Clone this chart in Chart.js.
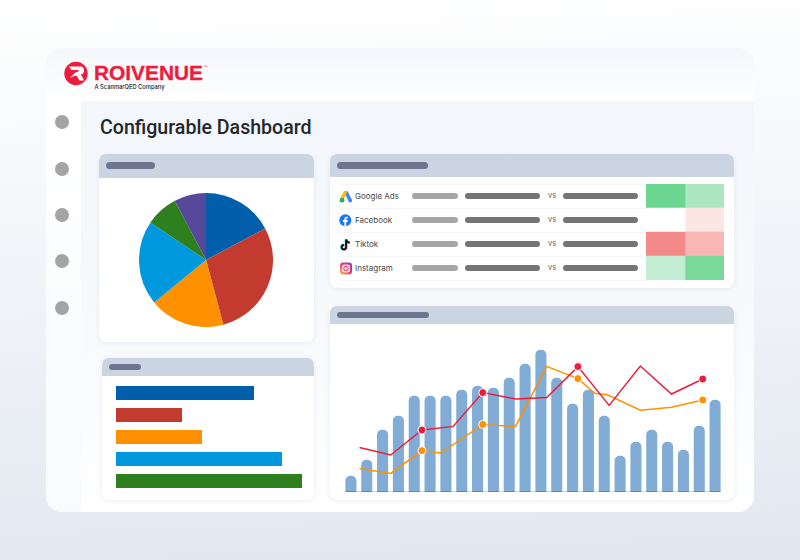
<!DOCTYPE html>
<html>
<head>
<meta charset="utf-8">
<title>Configurable Dashboard</title>
<script src="https://cdn.jsdelivr.net/npm/chart.js@4"></script>
<style>
    html, body { margin: 0; padding: 0; }
    body { width: 800px; height: 560px; position: relative; overflow: hidden; font-family: "Inter", sans-serif;
        background: linear-gradient(178deg, #ffffff 0%, #f6f8fb 30%, #e2e7f0 100%); }
    div, canvas, svg, span { position: absolute; }
    .frame { left: 46px; top: 48px; width: 708px; height: 464px; border-radius: 16px; overflow: hidden; background: #fff; }
    .head { left: 0; top: 0; width: 708px; height: 53px; background: linear-gradient(180deg, #f3f6fa 0%, #ffffff 100%); }
    .side { left: 0; top: 53px; width: 35px; height: 411px; background: linear-gradient(180deg, #ffffff 0%, #f8fafc 100%); }
    .main { left: 35px; top: 53px; width: 673px; height: 411px; background: linear-gradient(180deg, #f3f6fb 0%, #f8fafc 60%, #ffffff 100%); }
    .dot { left: 55px; width: 14px; height: 14px; border-radius: 50%; background: #a4a4a4; }
    .title { left: 100px; top: 115px; font: 500 19.6px/26px "Roboto", sans-serif; color: #24262b; white-space: nowrap; }
    .card { background: #fff; border-radius: 7px; box-shadow: 0 1px 4px rgba(110, 125, 165, .14); }
    .bar-top { left: 0; top: 0; background: #cbd5e1; border-radius: 7px 7px 0 0; }
    .pill { border-radius: 4px; }
    .pill.head-pill { background: #70758f; height: 7px; }
    .pill.light { background: #a5a5a5; height: 6px; left: 412px; width: 46px; }
    .pill.dark1 { background: #757575; height: 6px; left: 465px; width: 75px; }
    .pill.dark2 { background: #757575; height: 6px; left: 563px; width: 75px; }
    .sep { left: 340px; width: 306px; height: 1px; background: #f3f5f8; }
    .rowname { left: 355px; font: 400 8px/12px "Inter", sans-serif; color: #484848; white-space: nowrap; }
    .vs { left: 548px; font: 400 7.5px/10px "Inter", sans-serif; color: #666; }
</style>
</head>
<body>
<div class="frame">
    <div class="head"></div>
    <div class="side"></div>
    <div class="main"></div>
</div>

<svg style="left:60px;top:58px" width="160" height="36" viewBox="0 0 160 36">
    <circle cx="16" cy="15.5" r="11.7" fill="#ee1c3c"/>
    <path d="M9 8.5 H20.5 Q24 8.5 24 12.5 Q24 15.5 21 16.5 L24 22.5 L19.5 22.5 L16.5 17.5 L10 19.5 L15.5 14.5 L18.5 13.5 Q19.5 12.5 18 12 H11.5 Z" fill="#fff"/>
    <text x="34" y="21.5" font-family="Liberation Sans" font-weight="700" font-size="20" fill="#ee1c3c" stroke="#ee1c3c" stroke-width=".3" textLength="109" lengthAdjust="spacingAndGlyphs">ROIVENUE</text>
    <text x="143.5" y="10" font-family="Liberation Sans" font-size="4" fill="#ee1c3c">™</text>
    <text x="34.5" y="31" font-family="Inter" font-weight="500" font-size="6.4" fill="#26262b" textLength="70" lengthAdjust="spacingAndGlyphs">A ScanmarQED Company</text>
</svg>

<div class="dot" style="top:115px"></div>
<div class="dot" style="top:162px"></div>
<div class="dot" style="top:208px"></div>
<div class="dot" style="top:254px"></div>
<div class="dot" style="top:301px"></div>

<div class="title">Configurable Dashboard</div>

<!-- pie card -->
<div class="card" style="left:99px;top:154px;width:215px;height:188px">
    <div class="bar-top" style="width:215px;height:24px"></div>
    <div class="pill head-pill" style="left:7px;top:8px;width:49px"></div>
</div>
<!-- horizontal bars card -->
<div class="card" style="left:102px;top:358px;width:212px;height:142px">
    <div class="bar-top" style="width:212px;height:18px"></div>
    <div class="pill head-pill" style="left:7px;top:6px;width:32px;height:6px"></div>
</div>
<!-- channels card -->
<div class="card" style="left:330px;top:154px;width:404px;height:134px">
    <div class="bar-top" style="width:404px;height:23px"></div>
    <div class="pill head-pill" style="left:7px;top:8px;width:91px"></div>
</div>
<!-- combo card -->
<div class="card" style="left:330px;top:306px;width:404px;height:194px">
    <div class="bar-top" style="width:404px;height:18px"></div>
    <div class="pill head-pill" style="left:7px;top:6px;width:92px;height:6px"></div>
</div>

<div id="rows"></div>

<svg style="left:339px;top:190px" width="14" height="13" viewBox="0 0 14 13">
    <path d="M5 1 L8.5 1 L13 10 Q13.5 12 11.5 12.5 Q10 12.5 9.5 11.5 Z" fill="#4285f4"/>
    <path d="M5 1 L8.5 1 L4.5 10 L1.5 8 Z" fill="#fbbc04"/>
    <circle cx="3" cy="10.2" r="2.4" fill="#34a853"/>
</svg>
<svg style="left:339px;top:214px" width="13" height="13" viewBox="0 0 13 13">
    <circle cx="6.3" cy="6.3" r="6" fill="#1877f2"/>
    <path d="M5.4 12.3 V7.9 H3.9 V6.1 H5.4 V4.8 Q5.4 2.7 7.5 2.7 L8.9 2.8 V4.3 H8 Q7.2 4.3 7.2 5.1 V6.1 H8.8 L8.5 7.9 H7.2 V12.3 Z" fill="#fff"/>
</svg>
<svg style="left:339px;top:238px" width="12" height="13" viewBox="0 0 12 13">
    <path d="M7 1 V8.8 A2.2 2.2 0 1 1 4.8 6.6 M7 1 Q7.4 4 10.6 4.3" fill="none" stroke="#25f4ee" stroke-width="1.8" transform="translate(-.5 .4)"/>
    <path d="M7 1 V8.8 A2.2 2.2 0 1 1 4.8 6.6 M7 1 Q7.4 4 10.6 4.3" fill="none" stroke="#fe2c55" stroke-width="1.8" transform="translate(.5 .4)"/>
    <path d="M7 1 V8.8 A2.2 2.2 0 1 1 4.8 6.6 M7 1 Q7.4 4 10.6 4.3" fill="none" stroke="#111" stroke-width="1.8" transform="translate(0 .4)"/>
</svg>
<svg style="left:340px;top:262px" width="12" height="13" viewBox="0 0 12 12">
    <defs><linearGradient id="ig" x1="0" y1="1" x2="1" y2="0">
        <stop offset="0" stop-color="#fdc14a"/><stop offset=".5" stop-color="#e8396b"/><stop offset="1" stop-color="#7d3bd0"/>
    </linearGradient></defs>
    <rect width="12" height="12" rx="3" fill="url(#ig)"/>
    <rect x="2" y="2" width="8" height="8" rx="2.2" fill="#fde4ea" opacity=".9"/>
    <circle cx="6" cy="6" r="2.2" fill="none" stroke="#e8396b" stroke-width="1"/>
</svg>

<canvas id="pieChart" width="134" height="134" style="left:139px;top:193px"></canvas>
<canvas id="hbarChart" width="190" height="110" style="left:116px;top:382px"></canvas>
<canvas id="heatChart" width="78" height="96" style="left:646px;top:184px"></canvas>
<canvas id="comboChart" width="380" height="152" style="left:343px;top:340px"></canvas>

<script>
const pieValues = [62, 103, 65.7, 73.3, 28.3, 27.7];
const pieColors = ['#005eaa', '#c23b2e', '#ff9100', '#0099dd', '#2e7f1e', '#56489b'];

// Horizontale balken
const hbarLabels = ['a', 'b', 'c', 'd', 'e'];
const hbarValues = [138, 66, 86, 166, 186];
const hbarColors = ['#005eaa', '#c23b2e', '#ff9100', '#0099dd', '#2e7f1e'];

// Kanalen en heatmap
const channels = ['Google Ads', 'Facebook', 'Tiktok', 'Instagram'];
const heatLeft = ['#6bd690', '#ffffff', '#f38a8a', '#c3eed4'];
const heatRight = ['#abe6c1', '#fbe6e4', '#f8b7b5', '#7ad89b'];
const heatCellValue = [1, 1, 1, 1];

// Balken en lijnen
const barValues = [8, 16, 31, 38, 48, 48, 48, 51, 53, 52, 57, 64, 71, 57, 44, 51, 38, 18, 25, 31, 25, 21, 33, 46];
const redX = [0, 1, 2, 3, 3.95, 5, 6, 7, 8, 9, 10, 11];
const redY = [22.2, 18.5, 31, 32.8, 49.7, 46.5, 47.2, 62.7, 43.3, 63, 49, 56.5];
const redMarkers = [2, 4, 7, 11];
const orangeX = [0, 1, 2, 2.6, 3.95, 5, 6, 7, 7.55, 7.93, 9, 10, 11];
const orangeY = [11.7, 9.3, 20.7, 19.5, 33.8, 32.8, 62.8, 56.7, 49.2, 48.7, 40.9, 42.4, 46];
const orangeMarkers = [2, 4, 7, 12];

Chart.defaults.animation = false;
Chart.defaults.responsive = false;
Chart.defaults.plugins.legend.display = false;
Chart.defaults.plugins.tooltip.enabled = false;

// Rijen van de kanalentabel
const rowsEl = document.getElementById('rows');
channels.forEach((name, i) => {
    const mid = 196.3 + i * 24;
    rowsEl.innerHTML += `
        <div class="sep" style="top:${184 + i * 24}px"></div>
        <div class="rowname" style="top:${mid - 6.5}px">${name}</div>
        <div class="pill light" style="top:${mid - 3}px"></div>
        <div class="pill dark1" style="top:${mid - 3}px"></div>
        <div class="vs" style="top:${mid - 5}px">vs</div>
        <div class="pill dark2" style="top:${mid - 3}px"></div>
    `;
});
rowsEl.innerHTML += '<div class="sep" style="top:280px"></div>';

new Chart(document.getElementById('pieChart'), {
    type: 'pie',
    data: {
        labels: pieValues.map((v, i) => 'deel ' + (i + 1)),
        datasets: [{ data: pieValues, backgroundColor: pieColors, borderWidth: 0 }]
    }
});

new Chart(document.getElementById('hbarChart'), {
    type: 'bar',
    data: {
        labels: hbarLabels,
        datasets: [{
            data: hbarValues,
            backgroundColor: hbarColors,
            categoryPercentage: 1,
            barPercentage: 14 / 22
        }]
    },
    options: {
        indexAxis: 'y',
        scales: {
            x: { display: false, min: 0, max: 190 },
            y: { display: false }
        }
    }
});

new Chart(document.getElementById('heatChart'), {
    type: 'bar',
    data: {
        labels: channels,
        datasets: [
            { data: heatCellValue, backgroundColor: heatLeft, categoryPercentage: 1, barPercentage: 1 },
            { data: heatCellValue, backgroundColor: heatRight, categoryPercentage: 1, barPercentage: 1 }
        ]
    },
    options: {
        indexAxis: 'y',
        scales: {
            x: { display: false, stacked: true, min: 0, max: 2 },
            y: { display: false, stacked: true }
        }
    }
});

// Basislijn onder de balken
const baseLine = {
    id: 'baseLine',
    afterDatasetsDraw(chart) {
        const bars = chart.getDatasetMeta(0).data;
        const y = chart.scales.y.getPixelForValue(0);
        const ctx = chart.ctx;
        ctx.save();
        ctx.fillStyle = '#a9aeb5';
        ctx.fillRect(bars[0].x - bars[0].width / 2, y - 0.5, bars[bars.length - 1].x - bars[0].x + bars[0].width, 1);
        ctx.fillStyle = '#4f8abf';
        bars.forEach(b => ctx.fillRect(b.x - b.width / 2, y - 1, b.width, 1));
        ctx.restore();
    }
};

function lineData(xs, ys) {
    return xs.map((x, i) => ({ x: x, y: ys[i] }));
}
function markerSizes(xs, markers) {
    return xs.map((x, i) => markers.includes(i) ? 4 : 0);
}

new Chart(document.getElementById('comboChart'), {
    type: 'bar',
    data: {
        labels: barValues.map((v, i) => i + 1),
        datasets: [
            {
                data: barValues,
                backgroundColor: '#80acd6',
                borderRadius: { topLeft: 5, topRight: 5 },
                borderSkipped: 'bottom',
                grouped: false,
                barThickness: 10.4,
                order: 3
            },
            {
                type: 'line',
                xAxisID: 'x2',
                data: lineData(orangeX, orangeY),
                borderColor: '#ff9100',
                borderWidth: 1.5,
                tension: 0,
                pointRadius: markerSizes(orangeX, orangeMarkers),
                pointBackgroundColor: '#ff9100',
                pointBorderColor: '#ffffff',
                pointBorderWidth: 1,
                order: 2
            },
            {
                type: 'line',
                xAxisID: 'x2',
                data: lineData(redX, redY),
                borderColor: '#ee1c3c',
                borderWidth: 1.5,
                tension: 0,
                pointRadius: markerSizes(redX, redMarkers),
                pointBackgroundColor: '#ee1c3c',
                pointBorderColor: '#ffffff',
                pointBorderWidth: 1,
                order: 1
            }
        ]
    },
    options: {
        layout: { autoPadding: false, padding: 0 },
        scales: {
            x: { display: false },
            x2: { type: 'linear', display: false, offset: false, min: -0.53, max: 11.65 },
            y: { display: false, min: 0, max: 76 }
        }
    },
    plugins: [baseLine]
});
</script>
</body>
</html>
